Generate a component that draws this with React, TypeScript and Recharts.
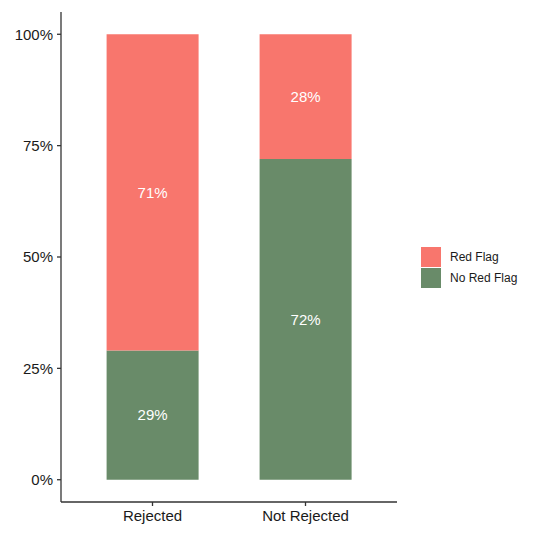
import { BarChart, Bar, XAxis, YAxis, LabelList } from 'recharts'

const categories = ['Rejected', 'Not Rejected']
const noRedFlag = [29, 72]
const redFlag = [71, 28]
const yTicks = [0, 25, 50, 75, 100]

const RED = '#F8766D'
const GREEN = '#698B69'
const AXIS = '#333333'
const FONT = 'Liberation Sans, Arial, Helvetica, sans-serif'

const data = categories.map((name, i) => ({
  name,
  noRed: noRedFlag[i],
  red: redFlag[i],
}))

const legendItems = [
  { label: 'Red Flag', color: RED },
  { label: 'No Red Flag', color: GREEN },
]

function LegendBox() {
  return (
    <div
      style={{
        position: 'absolute',
        left: 421,
        top: 246,
        fontFamily: FONT,
        fontSize: 12,
        color: '#1a1a1a',
      }}
    >
      {legendItems.map((it) => (
        <div key={it.label} style={{ display: 'flex', alignItems: 'center', height: 21.5 }}>
          <div style={{ width: 20, height: 20, background: it.color, marginRight: 9 }} />
          <span>{it.label}</span>
        </div>
      ))}
    </div>
  )
}

export default function App() {
  return (
    <div style={{ position: 'absolute', left: 0, top: 0, width: 535, height: 550, background: '#fff' }}>
      <BarChart
        width={535}
        height={550}
        data={data}
        margin={{ top: 12, right: 138, left: 0, bottom: 0 }}
        barCategoryGap="20%"
      >
        <XAxis
          dataKey="name"
          padding={{ left: 15, right: 15 }}
          height={48}
          axisLine={{ stroke: AXIS, strokeWidth: 1.3 }}
          tickLine={{ stroke: AXIS, strokeWidth: 1.3 }}
          tickSize={4}
          tickMargin={4}
          tick={{ fill: '#1a1a1a', fontSize: 15, fontFamily: FONT }}
        />
        <YAxis
          type="number"
          domain={[-5, 105]}
          ticks={yTicks}
          width={61}
          allowDataOverflow
          tickFormatter={(v) => `${v}%`}
          axisLine={{ stroke: AXIS, strokeWidth: 1.3 }}
          tickLine={{ stroke: AXIS, strokeWidth: 1.3 }}
          tickSize={4}
          tickMargin={4}
          tick={{ fill: '#1a1a1a', fontSize: 15, fontFamily: FONT }}
        />
        <Bar dataKey="noRed" stackId="a" fill={GREEN} isAnimationActive={false}>
          <LabelList
            dataKey="noRed"
            position="center"
            formatter={(v: any) => `${v}%`}
            fill="#ffffff"
            style={{ fontSize: 15, fontFamily: FONT }}
          />
        </Bar>
        <Bar dataKey="red" stackId="a" fill={RED} isAnimationActive={false}>
          <LabelList
            dataKey="red"
            position="center"
            formatter={(v: any) => `${v}%`}
            fill="#ffffff"
            style={{ fontSize: 15, fontFamily: FONT }}
          />
        </Bar>
      </BarChart>
      <LegendBox />
    </div>
  )
}
